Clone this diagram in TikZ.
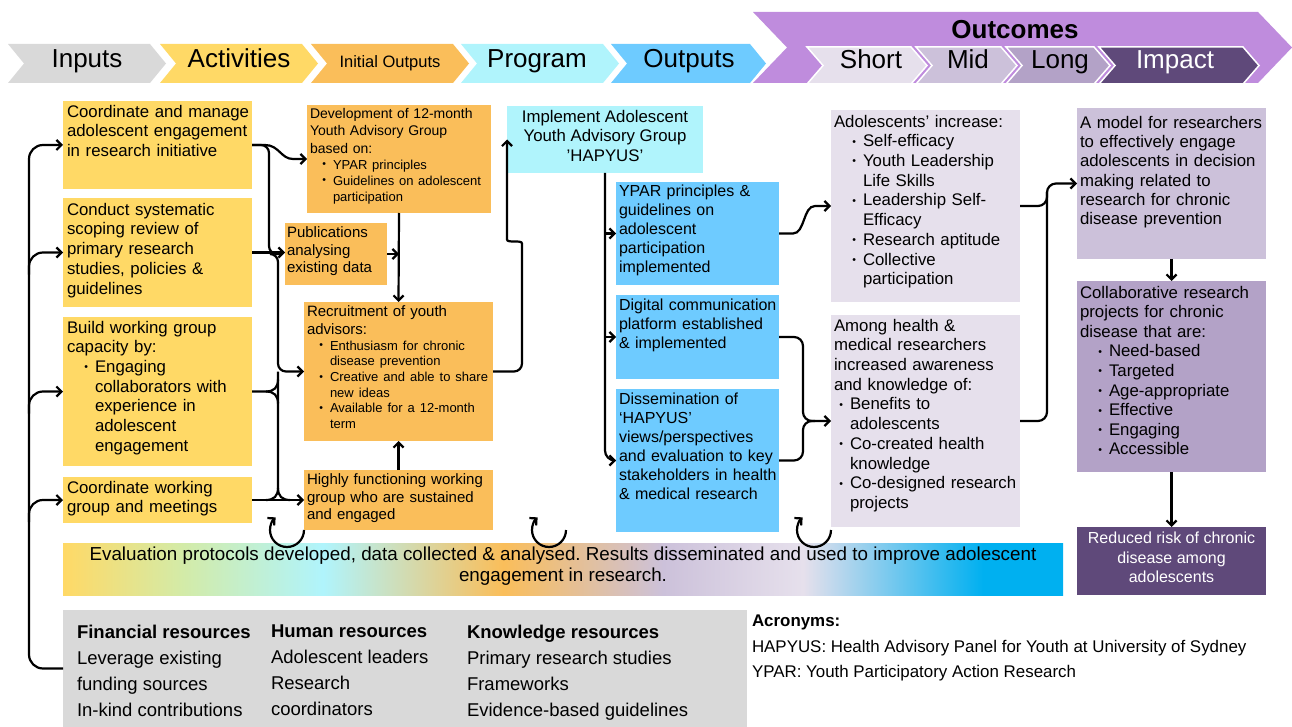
\documentclass[tikz,border=0pt]{standalone}
\usepackage{fontspec}
\setmainfont{Liberation Sans}
\usetikzlibrary{arrows.meta,calc}
\frenchspacing
\definecolor{ylw}{HTML}{FFD966}
\definecolor{org}{HTML}{FABE5A}
\definecolor{cyn}{HTML}{B0F4FC}
\definecolor{blu}{HTML}{6ECBFF}
\definecolor{gry}{HTML}{D9D9D9}
\definecolor{pur}{HTML}{BF8CDD}
\definecolor{lv1}{HTML}{E6E0EC}
\definecolor{lv2}{HTML}{CCC1DA}
\definecolor{lv3}{HTML}{B3A2C7}
\definecolor{lv4}{HTML}{5F497A}
\definecolor{grn}{HTML}{D3EBA8}
\definecolor{eblu}{HTML}{00B0F0}
\newcommand{\fz}[2]{\fontsize{#1}{#2}\selectfont}
\newcommand{\bul}{\raisebox{0.1em}{\fontsize{10.5}{10.5}\selectfont\textbullet}}
\newcommand{\bitem}[2]{\par\leftskip=#1\relax\noindent\llap{\bul\hspace{7pt}}#2\par}
\newcommand{\chev}[6]{\fill[#6] (#1,#3) -- (#2,#3) -- ({#2+#5},{(#3+#4)/2}) -- (#2,#4) -- (#1,#4) -- ({#1+#5},{(#3+#4)/2}) -- cycle;}
\pgfdeclarehorizontalshading{evalsh}{100bp}{color(0bp)=(ylw); color(25bp)=(ylw); color(31bp)=(grn); color(38bp)=(cyn); color(47bp)=(org); color(55bp)=(lv2); color(62bp)=(lv1); color(71bp)=(eblu); color(100bp)=(eblu)}
\begin{document}
\begin{tikzpicture}[x=1pt,y=-1pt,
 cn/.style={line width=2.2pt},
 arr/.style={line width=2.2pt, -{Straight Barb[length=5pt,width=10pt]}},
 bx/.style={anchor=north west, inner sep=0pt, outer sep=0pt},
 txt/.style={anchor=north west, inner sep=0pt, outer sep=0pt, align=left, execute at begin node={\setlength{\parskip}{0pt}}},
 hdr/.style={anchor=base, inner sep=0pt, font=\fz{26}{30}},
]
\useasboundingbox (0,0) rectangle (1292,727);

% ---------- header ----------
\chev{8}{150}{44}{83}{16}{gry}
\chev{160}{302}{44}{83}{16}{ylw}
\chev{311}{453}{44}{83}{16}{org}
\chev{461}{603}{44}{83}{16}{cyn}
\chev{611}{750}{44}{83}{16}{blu}
\chev{753}{1258}{12}{83}{34}{pur}
\chev{807}{911}{47}{84}{16}{lv1, draw=white, line width=1.5pt}
\chev{916}{1001}{47}{84}{16}{lv2, draw=white, line width=1.5pt}
\chev{1006}{1094}{47}{84}{16}{lv3, draw=white, line width=1.5pt}
\chev{1099}{1243}{47}{84}{16}{lv4, draw=white, line width=1.5pt}
\node[hdr] (hin) at (87,68) {Inputs};
\node[hdr] (hact) at (239,68) {Activities};
\node[anchor=base, inner sep=0pt, font=\fz{16.5}{18}] (hio) at (390,68) {Initial Outputs};
\node[hdr] (hprog) at (537,68) {Program};
\node[hdr] (hout) at (689,68) {Outputs};
\node[anchor=base, inner sep=0pt, font=\fz{26}{30}\bfseries] (hoc) at (1015,39) {Outcomes};
\node[hdr] (hs) at (871,69) {Short};
\node[hdr] (hm) at (968,69) {Mid};
\node[hdr] (hl) at (1060,69) {Long};
\node[hdr, text=white] (hi) at (1175,69) {Impact};

% ---------- boxes ----------
\node[bx, fill=ylw, minimum width=189pt, minimum height=88pt] (a1) at (63,101) {};
\node[bx, fill=ylw, minimum width=189pt, minimum height=109pt] (a2) at (63,198) {};
\node[bx, fill=ylw, minimum width=189pt, minimum height=149pt] (a3) at (63,317) {};
\node[bx, fill=ylw, minimum width=189pt, minimum height=46pt] (a4) at (63,477) {};
\node[bx, fill=org, minimum width=184pt, minimum height=108pt] (o1) at (307,105) {};
\node[bx, fill=org, minimum width=102pt, minimum height=62pt] (o2) at (285,223) {};
\node[bx, fill=org, minimum width=189pt, minimum height=139pt] (o3) at (304,302) {};
\node[bx, fill=org, minimum width=189pt, minimum height=60pt] (o4) at (304,470) {};
\node[bx, fill=cyn, minimum width=196pt, minimum height=67pt] (prog) at (507,106) {};
\node[bx, fill=blu, minimum width=163pt, minimum height=103pt] (b1) at (616,182) {};
\node[bx, fill=blu, minimum width=163pt, minimum height=84pt] (b2) at (616,295) {};
\node[bx, fill=blu, minimum width=163pt, minimum height=143pt] (b3) at (616,389) {};
\node[bx, fill=lv1, minimum width=189pt, minimum height=192pt] (s1) at (831,110) {};
\node[bx, fill=lv1, minimum width=189pt, minimum height=212pt] (s2) at (831,315) {};
\node[bx, fill=lv2, minimum width=189pt, minimum height=151pt] (m1) at (1077,108) {};
\node[bx, fill=lv3, minimum width=189pt, minimum height=191pt] (l1) at (1077,281) {};
\node[bx, fill=lv4, minimum width=189pt, minimum height=68pt] (i1) at (1077,527) {};
\node[bx, fill=gry, minimum width=684pt, minimum height=117pt] (res) at (63,610) {};
\shade[shading=evalsh] (63,543) rectangle (1063,595);

% ---------- texts ----------
\node[txt, text width=200pt, font=\fz{16.8}{19.8}] (a1t) at (67,105) {Coordinate and manage\\adolescent engagement\\in research initiative};
\node[txt, text width=200pt, font=\fz{16.8}{19.8}] (a2t) at (67,203) {Conduct systematic\\scoping review of\\primary research\\studies, policies \&\\guidelines};
\node[txt, text width=200pt, font=\fz{16.8}{19.7}] (a3t) at (67,321) {Build working group\\capacity by:\bitem{28pt}{Engaging\\collaborators with\\experience in\\adolescent\\engagement}};
\node[txt, text width=200pt, font=\fz{16.8}{19.8}] (a4t) at (67,481) {Coordinate working\\group and meetings};

\node[txt, text width=200pt, font=\fz{14}{17.5}] (o1t) at (310,108) {Development of 12-month\\Youth Advisory Group\\based on:\par\fz{13}{16}\bitem{23pt}{YPAR principles}\bitem{23pt}{Guidelines on adolescent\\participation}};
\node[txt, text width=120pt, font=\fz{15}{17.5}] (o2t) at (287,227) {Publications\\analysing\\existing data};
\node[txt, text width=200pt, font=\fz{15}{17.5}] (o3t) at (307,306) {Recruitment of youth\\advisors:\par\fz{13}{15.7}\bitem{23pt}{Enthusiasm for chronic\\disease prevention}\bitem{23pt}{Creative and able to share\\new ideas}\bitem{23pt}{Available for a 12-month\\term}};
\node[txt, text width=200pt, font=\fz{15}{17.5}] (o4t) at (307,474) {Highly functioning working\\group who are sustained\\and engaged};

\node[anchor=north, inner sep=0pt, align=center, font=\fz{16.8}{19.5}] (progt) at (605,110) {Implement Adolescent\\Youth Advisory Group\\’HAPYUS’};

\node[txt, text width=175pt, font=\fz{16}{19}] (b1t) at (619,185) {YPAR principles \&\\guidelines on\\adolescent\\participation\\implemented};
\node[txt, text width=175pt, font=\fz{16}{19}] (b2t) at (619,299) {Digital communication\\platform established\\\& implemented};
\node[txt, text width=175pt, font=\fz{16}{19}] (b3t) at (619,393) {Dissemination of\\‘HAPYUS’\\views/perspectives\\and evaluation to key\\stakeholders in health\\\& medical research};

\node[txt, text width=200pt, font=\fz{16.8}{19.7}] (s1t) at (834,115) {Adolescents’ increase:\bitem{29pt}{Self-efficacy}\bitem{29pt}{Youth Leadership\\Life Skills}\bitem{29pt}{Leadership Self-\\Efficacy}\bitem{29pt}{Research aptitude}\bitem{29pt}{Collective\\participation}};
\node[txt, text width=200pt, font=\fz{16.8}{19.7}] (s2t) at (834,319) {Among health \&\\medical researchers\\increased awareness\\and knowledge of:\bitem{16pt}{Benefits to\\adolescents}\bitem{16pt}{Co-created health\\knowledge}\bitem{16pt}{Co-designed research\\projects}};

\node[txt, text width=200pt, font=\fz{16.8}{19.3}] (m1t) at (1080,116) {A model for researchers\\to effectively engage\\adolescents in decision\\making related to\\research for chronic\\disease prevention};
\node[txt, text width=200pt, font=\fz{16.8}{19.6}] (l1t) at (1080,286) {Collaborative research\\projects for chronic\\disease that are:\bitem{29pt}{Need-based}\bitem{29pt}{Targeted}\bitem{29pt}{Age-appropriate}\bitem{29pt}{Effective}\bitem{29pt}{Engaging}\bitem{29pt}{Accessible}};
\node[anchor=north, inner sep=0pt, align=center, text=white, font=\fz{16}{19.5}] (i1t) at (1171.5,532) {Reduced risk of chronic\\disease among\\adolescents};

\node[anchor=north, inner sep=0pt, align=center, font=\fz{18.8}{21}] (evt) at (563,547) {Evaluation protocols developed, data collected \& analysed. Results disseminated and used to improve adolescent\\engagement in research.};

\node[txt, font=\fz{18.5}{26}] (rf) at (77,625) {\textbf{Financial resources}\\Leverage existing\\funding sources\\In-kind contributions};
\node[txt, font=\fz{18.5}{26}] (rh) at (271,625) {\textbf{Human resources}\\Adolescent leaders\\Research\\coordinators};
\node[txt, font=\fz{18.5}{26}] (rk) at (467,625) {\textbf{Knowledge resources}\\Primary research studies\\Frameworks\\Evidence-based guidelines};
\node[txt, font=\fz{16.9}{25.5}] (acr) at (752,615) {\textbf{Acronyms:}\\HAPYUS: Health Advisory Panel for Youth at University of Sydney\\YPAR: Youth Participatory Action Research};

% ---------- connectors ----------
\coordinate (tx) at (29,0);
\draw[arr, rounded corners=14] (res.west) -- (res.west -| tx) -- (a1.west -| tx) -- (a1.west);
\foreach \n in {a2,a3,a4} {\draw[arr, rounded corners=14] ($(\n.west -| tx)+(0,22)$) -- (\n.west -| tx) -- (\n.west);}

\coordinate (v1) at (269,0);
\coordinate (v2) at (278,0);
\draw[cn, rounded corners=8] (a1.east) -- (a1.east -| v1) -- (o2.west -| v1) -- ($(o2.west -| v1)+(12,0)$);
\draw[arr] (a1.east) -- ($(a1.east -| v1)+(-4,0)$) .. controls ($(a1.east -| v1)+(10,0)$) and ($(o1.west)+(-26,0)$) .. ($(o1.west)+(-14,0)$) -- (o1.west);
\draw[arr] (a2.east) -- (a2.east -| o2.west);
\draw[arr, rounded corners=8] ($(o2.west -| v1)+(4,0)$) -- (o2.west -| v2) -- (o3.west -| v2) -- (o3.west);
\draw[cn] (o3.west -| v2) -- ($(a4.east -| v2)+(0,-12)$) .. controls ($(a4.east -| v2)+(0,-4)$) and ($(a4.east -| v2)+(4,0)$) .. ($(a4.east -| v2)+(12,0)$);
\draw[cn] ($(a4.east -| v2)+(0,-12)$) .. controls ($(a4.east -| v2)+(0,-4)$) and ($(a4.east -| v2)+(-4,0)$) .. ($(a4.east -| v2)+(-12,0)$);
\draw[arr] (a4.east) -- (o4.west);
\draw[cn] (a3.east) -- ($(a3.east -| v2)+(-12,0)$) .. controls ($(a3.east -| v2)+(-4,0)$) and ($(a3.east -| v2)+(0,-4)$) .. ($(a3.east -| v2)+(0,-12)$);
\draw[cn] ($(a3.east -| v2)+(-12,0)$) .. controls ($(a3.east -| v2)+(-4,0)$) and ($(a3.east -| v2)+(0,4)$) .. ($(a3.east -| v2)+(0,12)$);

\draw[arr] (o1.south) -- (o3.north);
\draw[arr] (o4.north) -- (o3.south);
\draw[arr] (o2.east) -- (o2.east -| o1.south);

\coordinate (v3) at (522,0);
\draw[arr, rounded corners=8] (o3.east) -- (o3.east -| v3) -- ($(prog.west -| v3)+(0,112)$) .. controls ($(prog.west -| v3)+(0,100)$) and ($(prog.west)+(0,104)$) .. ($(prog.west)+(0,92)$) -- (prog.west);

\coordinate (v4) at (605,0);
\draw[arr, rounded corners=10] (prog.south) -- (b3.west -| v4) -- (b3.west);
\draw[arr] (b1.west -| v4) -- (b1.west);
\draw[arr] (b2.west -| v4) -- (b2.west);

\draw[arr] (b1.east) -- ($(b1.east)+(14,0)$) .. controls ($(b1.east)+(26,0)$) and ($(s1.west)+(-28,0)$) .. ($(s1.west)+(-16,0)$) -- (s1.west);
\coordinate (v5) at (803,0);
\draw[arr, rounded corners=9] (b2.east) -- (b2.east -| v5) -- (s2.west -| v5) -- (s2.west);
\draw[cn, rounded corners=9] (b3.east) -- (b3.east -| v5) -- (s2.west -| v5) -- ($(s2.west -| v5)+(12,0)$);

\coordinate (v6) at (1047,0);
\draw[arr, rounded corners=9] (s2.east) -- (s2.east -| v6) -- (m1.west -| v6) -- (m1.west);
\draw[cn, rounded corners=9] (s1.east) -- (s1.east -| v6) -- ($(s1.east -| v6)+(0,-14)$);

\draw[arr] (m1.south) -- (l1.north);
\draw[arr] (l1.south) -- (i1.north);

\foreach \cx/\nm in {287/cy1,549/cy2,814/cy3} {\coordinate (\nm) at (\cx,530); \draw[arr] ($(\nm)+(17,0)$) arc[start angle=0, end angle=228, radius=17];}
\end{tikzpicture}
\end{document}
